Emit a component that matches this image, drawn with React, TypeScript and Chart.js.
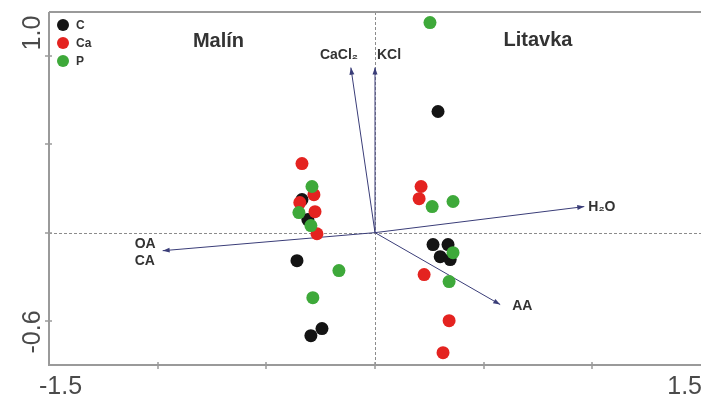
import React, { useEffect, useRef } from "react";
import { Chart, registerables } from "chart.js";

Chart.register(...registerables);

// Sample groups
const groupNames = ["C", "Ca", "P"];
const groupColors = ["#141414", "#e42320", "#3ea93a"];

// Sample scores on the first two ordination axes
const cX = [-0.336, -0.309, -0.359, -0.244, -0.295, 0.29, 0.267, 0.336, 0.3, 0.346];
const cY = [0.15, 0.059, -0.127, -0.435, -0.467, 0.549, -0.054, -0.054, -0.109, -0.122];
const caX = [-0.336, -0.281, -0.346, -0.276, -0.267, 0.212, 0.203, 0.226, 0.341, 0.313];
const caY = [0.313, 0.172, 0.136, 0.095, -0.005, 0.209, 0.154, -0.19, -0.399, -0.544];
const pX = [-0.29, -0.35, -0.295, -0.166, -0.286, 0.253, 0.263, 0.359, 0.359, 0.341];
const pY = [0.209, 0.091, 0.032, -0.172, -0.295, 0.952, 0.118, 0.141, -0.091, -0.222];

// Extraction vectors
const vectorLabels = [["H₂O"], ["OA", "CA"], ["AA"], ["KCl"], ["CaCl₂"]];
const vectorX = [0.963, -0.977, 0.576, 0, -0.111];
const vectorY = [0.118, -0.082, -0.326, 0.748, 0.748];

// Site names
const siteNames = ["Malín", "Litavka"];
const siteX = [-0.72, 0.75];
const siteY = [0.866, 0.87];

// Axes
const xMin = -1.5;
const xMax = 1.5;
const yMin = -0.6;
const yMax = 1.0;
const xTickValues = [-1.0, -0.5, 0, 0.5, 1.0];
const yTickValues = [-0.4, 0, 0.4, 0.8];
const xTickLabels = ["-1.5", "1.5"];
const yTickLabels = ["-0.6", "1.0"];

// Label placement next to each vector tip (pixels)
const vectorLabelPlacement = [
  { dx: 4, dy: 1, lineGap: 0 },
  { dx: -28, dy: -7, lineGap: 17 },
  { dx: 12, dy: 2, lineGap: 0 },
  { dx: 2, dy: -12, lineGap: 0 },
  { dx: -31, dy: -12, lineGap: 0 },
];

const FONT = "'Liberation Sans', Arial, sans-serif";
const VECTOR_COLOR = "#3a3d78";
const AXIS_COLOR = "#9a9a9a";

const zip = (xs: number[], ys: number[]) => xs.map((x, i) => ({ x, y: ys[i] }));

const biplotPlugin = {
  id: "biplot",
  beforeDatasetsDraw(chart: any) {
    const { ctx, chartArea: a, scales } = chart;
    const x0 = Math.round(scales.x.getPixelForValue(0)) + 0.5;
    const y0 = Math.round(scales.y.getPixelForValue(0)) + 0.5;
    ctx.save();
    ctx.strokeStyle = "#8c8c8c";
    ctx.lineWidth = 1;
    ctx.setLineDash([3, 2]);
    ctx.beginPath();
    ctx.moveTo(x0, a.top);
    ctx.lineTo(x0, a.bottom);
    ctx.moveTo(a.left, y0);
    ctx.lineTo(a.right, y0);
    ctx.stroke();
    ctx.restore();
  },
  afterDatasetsDraw(chart: any) {
    const { ctx, scales } = chart;
    const px0 = scales.x.getPixelForValue(0);
    const py0 = scales.y.getPixelForValue(0);
    ctx.save();
    vectorX.forEach((vx, i) => {
      const tx = scales.x.getPixelForValue(vx);
      const ty = scales.y.getPixelForValue(vectorY[i]);
      const ang = Math.atan2(ty - py0, tx - px0);
      const len = 7;
      const half = 2.5;
      ctx.fillStyle = VECTOR_COLOR;
      ctx.beginPath();
      ctx.moveTo(tx, ty);
      ctx.lineTo(
        tx - len * Math.cos(ang) + half * Math.sin(ang),
        ty - len * Math.sin(ang) - half * Math.cos(ang)
      );
      ctx.lineTo(
        tx - len * Math.cos(ang) - half * Math.sin(ang),
        ty - len * Math.sin(ang) + half * Math.cos(ang)
      );
      ctx.closePath();
      ctx.fill();

      const p = vectorLabelPlacement[i];
      ctx.fillStyle = "#333333";
      ctx.font = `bold 14px ${FONT}`;
      ctx.textAlign = "left";
      ctx.textBaseline = "middle";
      vectorLabels[i].forEach((line, k) => {
        ctx.fillText(line, tx + p.dx, ty + p.dy + k * p.lineGap);
      });
    });
    ctx.restore();
  },
  afterDraw(chart: any) {
    const { ctx, chartArea: a, scales } = chart;
    ctx.save();

    // frame: left, bottom and top lines
    ctx.strokeStyle = AXIS_COLOR;
    ctx.lineWidth = 2;
    ctx.beginPath();
    ctx.moveTo(a.left, a.top);
    ctx.lineTo(a.left, a.bottom);
    ctx.lineTo(a.right, a.bottom);
    ctx.moveTo(a.left, a.top);
    ctx.lineTo(a.right, a.top);
    ctx.stroke();

    // tick marks
    ctx.lineWidth = 1.5;
    ctx.beginPath();
    xTickValues.forEach((v) => {
      const px = Math.round(scales.x.getPixelForValue(v));
      ctx.moveTo(px, a.bottom - 3);
      ctx.lineTo(px, a.bottom + 4);
    });
    yTickValues.forEach((v) => {
      const py = Math.round(scales.y.getPixelForValue(v));
      ctx.moveTo(a.left - 4, py);
      ctx.lineTo(a.left + 3, py);
    });
    ctx.stroke();

    // end labels of the axes
    ctx.fillStyle = "#4a4a4a";
    ctx.font = `25px ${FONT}`;
    ctx.textBaseline = "alphabetic";
    ctx.textAlign = "left";
    ctx.fillText(xTickLabels[0], scales.x.getPixelForValue(xMin) - 10, 394);
    ctx.textAlign = "right";
    ctx.fillText(xTickLabels[1], scales.x.getPixelForValue(xMax) + 1, 394);

    const yLabelPos = [
      scales.y.getPixelForValue(yMin) - 33,
      scales.y.getPixelForValue(yMax) + 21,
    ];
    yTickLabels.forEach((t, i) => {
      ctx.save();
      ctx.translate(a.left - 9, yLabelPos[i]);
      ctx.rotate(-Math.PI / 2);
      ctx.textAlign = "center";
      ctx.fillText(t, 0, 0);
      ctx.restore();
    });

    // site names
    ctx.fillStyle = "#333333";
    ctx.font = `bold 20px ${FONT}`;
    ctx.textAlign = "center";
    ctx.textBaseline = "middle";
    siteNames.forEach((s, i) => {
      ctx.fillText(s, scales.x.getPixelForValue(siteX[i]), scales.y.getPixelForValue(siteY[i]));
    });

    // legend
    ctx.font = `bold 12px ${FONT}`;
    ctx.textAlign = "left";
    groupNames.forEach((g, i) => {
      const cy = a.top + 13 + i * 18;
      ctx.fillStyle = groupColors[i];
      ctx.beginPath();
      ctx.arc(a.left + 14, cy, 6, 0, Math.PI * 2);
      ctx.fill();
      ctx.fillStyle = "#333333";
      ctx.fillText(g, a.left + 27, cy + 1);
    });

    ctx.restore();
  },
};

export default function App() {
  const canvasRef = useRef<HTMLCanvasElement | null>(null);

  useEffect(() => {
    document.body.style.margin = "0";
    const canvas = canvasRef.current;
    if (!canvas) return;

    const vectorSets = vectorX.map((vx, i) => ({
      label: vectorLabels[i].join("/"),
      data: [
        { x: 0, y: 0 },
        { x: vx, y: vectorY[i] },
      ],
      showLine: true,
      borderColor: VECTOR_COLOR,
      borderWidth: 1,
      pointRadius: 0,
      order: 10,
    }));

    const pointSet = (i: number, xs: number[], ys: number[]) => ({
      label: groupNames[i],
      data: zip(xs, ys),
      backgroundColor: groupColors[i],
      borderWidth: 0,
      pointRadius: 6.5,
      order: 3 - i,
    });

    const chart = new Chart(canvas, {
      type: "scatter",
      data: {
        datasets: [
          ...vectorSets,
          pointSet(0, cX, cY),
          pointSet(1, caX, caY),
          pointSet(2, pX, pY),
        ] as any,
      },
      options: {
        responsive: false,
        animation: false,
        devicePixelRatio: 1,
        layout: {
          autoPadding: false,
          padding: { left: 49, right: 1, top: 12, bottom: 33 },
        },
        plugins: { legend: { display: false }, tooltip: { enabled: false } },
        scales: {
          x: { type: "linear", min: xMin, max: xMax, display: false },
          y: { type: "linear", min: yMin, max: yMax, display: false },
        },
      },
      plugins: [biplotPlugin],
    });

    return () => chart.destroy();
  }, []);

  return (
    <div style={{ width: 702, height: 398, background: "#ffffff" }}>
      <canvas ref={canvasRef} width={702} height={398} style={{ display: "block" }} />
    </div>
  );
}
